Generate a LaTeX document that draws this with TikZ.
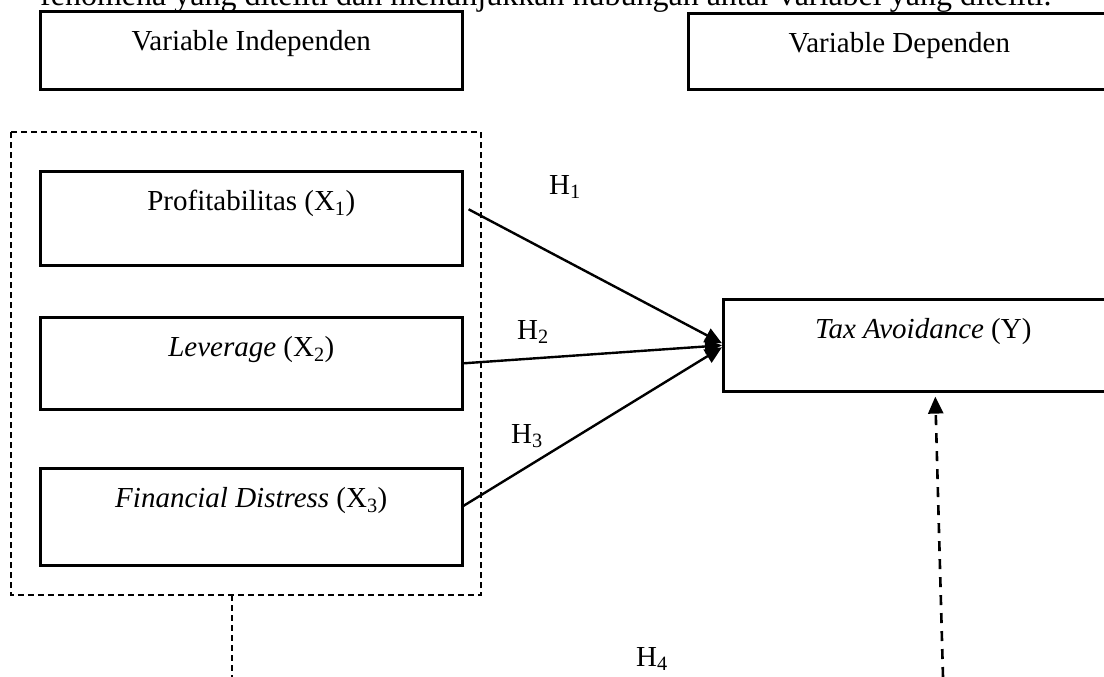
\documentclass[tikz,border=0pt]{standalone}
\usepackage{fontspec}
\setmainfont{Liberation Serif}
\usepackage{tikz}
\usetikzlibrary{positioning,arrows.meta,calc}
\tikzset{
varbox/.style={draw, line width=2.6pt, minimum width=422pt, inner sep=0pt, text height=39pt, text depth=#1, font=\fontsize{29}{34}\selectfont},
hlabel/.style={anchor=base, inner sep=0pt, font=\fontsize{29}{34}\selectfont},
hyp/.style={line width=2.4pt, -{Triangle[length=17pt,width=15pt]}},
groupline/.style={line width=1.2pt, dash pattern=on 6pt off 4pt},
moderate/.style={line width=2.6pt, dash pattern=on 10pt off 8pt, -{Triangle[length=17pt,width=15pt]}}
}

\begin{document}
\begin{tikzpicture}[x=1pt,y=-1pt]
	\useasboundingbox (0,0) rectangle (1104,677);
	\clip (0,0) rectangle (1104,677);
	\node[anchor=base west, inner sep=0pt, font=\fontsize{32}{38}\selectfont] (intro) at (40,6) {fenomena yang diteliti dan menunjukkan hubungan antar variabel yang diteliti.};
	\node[varbox=39pt, anchor=north west] (indep) at (39,10) {Variable Independen};
	\node[varbox=37pt, anchor=north west] (dep) at (687,12) {Variable Dependen};
	\node[varbox=55pt, anchor=north west] (x1) at (39,170) {Profitabilitas (X\textsubscript{1})};
	\node[varbox=53pt, anchor=north west] (x2) at (39,316) {\textit{Leverage} (X\textsubscript{2})};
	\node[varbox=58pt, anchor=north west] (x3) at (39,467) {\textit{Financial Distress} (X\textsubscript{3})};
	\node[varbox=53pt, minimum width=400pt, anchor=north west] (tax) at (722,298) {\textit{Tax Avoidance} (Y)};
	\draw[groupline] (11,132) rectangle (481,595);
	\coordinate (grpfoot) at (232,595);
	\coordinate (grpend) at (232,677);
	\draw[groupline] (grpfoot) -- (grpend);
	\draw[hyp] ([xshift=5pt,yshift=9pt]x1.east) -- ([yshift=2pt]tax.west);
	\draw[hyp] (x2.east) -- (tax.west);
	\draw[hyp] ([yshift=11pt]x3.east) -- ([yshift=-2pt]tax.west);
	\coordinate (h4start) at (943,677);
	\draw[moderate] (h4start) -- ($(tax.south)+(12,4)$);
	\node[hlabel] (h1) at (565,194) {H\textsubscript{1}};
	\node[hlabel] (h2) at (533,339) {H\textsubscript{2}};
	\node[hlabel] (h3) at (527,443) {H\textsubscript{3}};
	\node[hlabel] (h4) at (652,666) {H\textsubscript{4}};
\end{tikzpicture}
\end{document}
